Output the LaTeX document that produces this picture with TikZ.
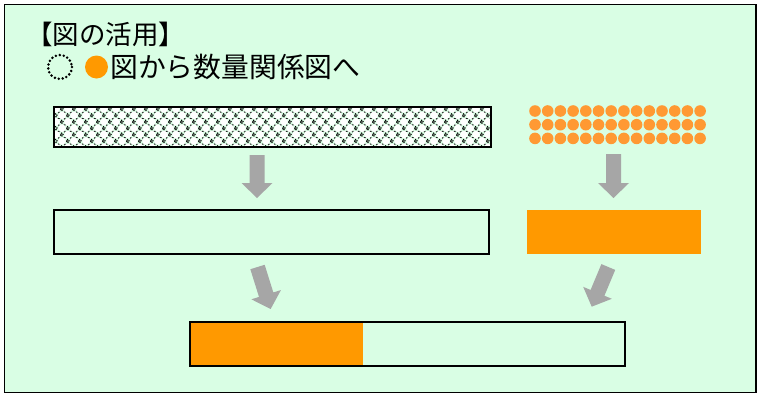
\documentclass[tikz,border=0pt]{standalone}
\usepackage{fontspec}
\newfontfamily\jp{Noto Sans CJK JP}
\definecolor{bggreen}{RGB}{217,254,228}
\definecolor{barorange}{RGB}{255,153,0}
\definecolor{dotorange}{RGB}{255,153,51}
\definecolor{arrowgray}{RGB}{166,166,166}
\newcommand\blockarrow[3]{%
  \fill[arrowgray, shift={(#1)}, rotate=#2]
    (-7.5,0) -- (7.5,0) -- (7.5,{#3-15}) -- (15.5,{#3-15}) -- (0,#3)
    -- (-15.5,{#3-15}) -- (-7.5,{#3-15}) -- cycle;}
\begin{document}
\begin{tikzpicture}[x=1pt,y=-1pt,
  bar/.style={draw=black, line width=2.2pt, minimum height=44pt, inner sep=0pt, outer sep=0pt},
  title/.style={anchor=west, inner sep=0pt, font=\jp\fontsize{26.5}{26.5}\selectfont},
  heading/.style={anchor=west, inner sep=0pt, font=\jp\fontsize{27.8}{27.8}\selectfont}]
\useasboundingbox (0,0) rectangle (763,394);
\draw[fill=bggreen, line width=1.5pt] (4.5,4.5) rectangle (756,392.5);
\node[title] (t1) at (26,34) {【図の活用】};
\draw[black, line width=2.8pt, line cap=round, dash pattern=on 0pt off 4pt] (60,67) circle (12);
\fill[barorange] (96.5,67) circle (11.5);
\node[heading] (t2) at (110,67) {図から数量関係図へ};
% patterned bar
\begin{scope}
\clip (54,107) rectangle (491,147);
\foreach \r in {0,...,6} {
  \foreach \c in {0,...,37} {
    \pgfmathsetmacro\xx{56+12*\c+mod(\r,2)*6}
    \pgfmathsetmacro\yy{109+6.4*\r}
    \draw[black, line width=1.2pt, dash pattern=on 1.2pt off 2.6pt] (\xx,\yy) circle (5.1);
  }
}
\foreach \r in {0,...,6} {
  \foreach \c in {0,...,37} {
    \pgfmathsetmacro\xx{56+12*\c+mod(\r,2)*6}
    \pgfmathsetmacro\yy{109+6.4*\r}
    \fill[white] (\xx,\yy) circle (3.8);
  }
}
\end{scope}
\node[bar, minimum width=437pt, minimum height=40pt] (pat) at (272.5,127) {};
% orange dots
\foreach \r in {0,1,2} {
  \foreach \c in {0,...,13} {
    \fill[dotorange] ({535+12.7*\c},{111+13.7*\r}) circle (5.8);
  }
}
\coordinate (dots) at (617.5,125);
% arrows
\blockarrow{257,155}{0}{43}
\blockarrow{613.5,154}{0}{44}
% middle boxes
\node[bar, minimum width=435pt] (mid) at (271.5,232) {};
\node[fill=barorange, minimum width=174pt, minimum height=44pt, inner sep=0pt] (orng) at (613.5,232) {};
% slanted arrows
\blockarrow{257.5,267}{17.4}{44}
\blockarrow{608.3,267}{-22.7}{43}
% bottom bar
\fill[barorange] (191,323) rectangle (363,365);
\node[bar, minimum width=435pt] (res) at (407.5,344) {};
\end{tikzpicture}
\end{document}
